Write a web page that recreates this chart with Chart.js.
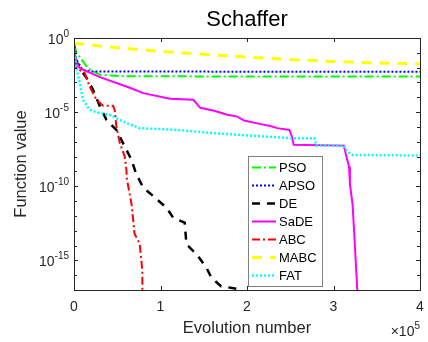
<!DOCTYPE html>
<html>
<head>
<meta charset="utf-8">
<script src="https://cdn.jsdelivr.net/npm/chart.js@4"></script>
<style>
  html, body { margin: 0; padding: 0; background: #fff; }
  canvas { display: block; }
</style>
</head>
<body>
<canvas id="chart" width="428" height="342"></canvas>
<script>
// series data, x = evolution number, y = function value
const seriesNames = ['PSO', 'APSO', 'DE', 'SaDE', 'ABC', 'MABC', 'FAT'];

const psoX = [0, 3000, 16000, 30000, 60000, 400000];
const psoY = [3.5e-1, 1e-1, 9.3e-3, 3.3e-3, 2.6e-3, 2.5e-3];

const apsoX = [0, 3000, 10000, 20000, 400000];
const apsoY = [3.5e-1, 3.2e-2, 7.1e-3, 5.5e-3, 5.2e-3];

const deX = [0, 3000, 6600, 16000, 22000, 30000, 37500, 49000, 58700, 66500, 72000, 80000,
    91500, 107000, 114600, 128000, 130000, 142000, 153000, 159000, 170000, 193000];
const deY = [3.5e-1, 2.5e-2, 9.3e-3, 1.5e-3, 3.2e-4, 2.4e-5, 3e-6, 6.3e-7, 4.8e-8, 6e-9, 6.5e-10, 8.1e-11,
    2.2e-11, 3.5e-12, 7.6e-13, 3.5e-13, 1.2e-14, 2.5e-15, 3.2e-16, 6.6e-17, 1.8e-17, 1.1e-17];

const sadeX = [0, 2000, 6600, 30000, 64500, 80000, 111000, 138000, 146000, 162000, 177000, 189000,
    196500, 216000, 227000, 235000, 249000, 252000, 254000, 312000, 314000, 318000, 319000, 322000,
    324000, 326000, 328000];
const sadeY = [3.5e-1, 2.5e-2, 9.3e-3, 2.3e-3, 4.4e-4, 1.9e-4, 7.9e-5, 6.8e-5, 1.95e-5, 1.23e-5, 6.6e-6, 5e-6,
    2.7e-6, 1.55e-6, 1.17e-6, 8.3e-7, 6.3e-7, 2.2e-7, 6.2e-8, 5.5e-8, 1.7e-8, 2.1e-9, 1.4e-10, 6.3e-12,
    6.3e-14, 4e-16, 3.2e-18];

const abcX = [0, 1000, 3000, 12400, 18000, 26000, 33600, 45000, 47000, 49000, 53000, 58700, 60700,
    60800, 66500, 70000, 76000, 79000, 79100];
const abcY = [3.5e-1, 2e-2, 9.3e-3, 4.4e-3, 5.4e-4, 6.8e-5, 2.7e-5, 2.7e-5, 1.45e-5, 1.07e-6, 8.1e-8, 1e-8, 1.1e-9,
    4e-10, 6.3e-12, 6.3e-14, 1.26e-14, 2e-16, 3.2e-18];

const mabcX = [0, 50000, 100000, 150000, 200000, 250000, 300000, 350000, 400000];
const mabcY = [4.4e-1, 2.2e-1, 1.26e-1, 7.9e-2, 5.2e-2, 3.5e-2, 2.6e-2, 2.1e-2, 1.8e-2];

const fatX = [0, 3000, 6600, 10400, 18000, 30000, 41000, 49000, 61000, 76000, 119000, 162000, 224000,
    251000, 278000, 280000, 312000, 316000, 322000, 400000];
const fatY = [3.5e-1, 9.3e-3, 9.1e-4, 6.8e-5, 1.45e-5, 8.5e-6, 6.6e-6, 3.9e-6, 1.8e-6, 8.3e-7, 6.3e-7, 3.8e-7, 2.2e-7,
    1.74e-7, 1.74e-7, 5.5e-8, 5.5e-8, 2.2e-8, 1.3e-8, 1.17e-8];

// axis ticks
const xTicks = [0, 100000, 200000, 300000, 400000];
const xTickLabels = ['0', '1', '2', '3', '4'];
const yTicks = [1, 1e-5, 1e-10, 1e-15];
const yTickExps = ['0', '-5', '-10', '-15'];

function pts(xs, ys) {
    return xs.map((x, i) => ({ x: x, y: ys[i] }));
}

const styles = [
    { color: '#00ff00', width: 2, dash: [9, 3, 2, 3] },
    { color: '#0000ff', width: 2, dash: [2, 2] },
    { color: '#000000', width: 2.5, dash: [8, 7] },
    { color: '#ff00ff', width: 2, dash: [] },
    { color: '#ff0000', width: 2, dash: [8, 3, 2, 3] },
    { color: '#ffff00', width: 3, dash: [10, 8] },
    { color: '#00ffff', width: 2.5, dash: [2, 2] }
];
const allData = [pts(psoX, psoY), pts(apsoX, apsoY), pts(deX, deY), pts(sadeX, sadeY),
    pts(abcX, abcY), pts(mabcX, mabcY), pts(fatX, fatY)];

const datasets = seriesNames.map((name, i) => ({
    label: name,
    data: allData[i],
    borderColor: styles[i].color,
    borderWidth: styles[i].width,
    borderDash: styles[i].dash,
    pointRadius: 0,
    fill: false,
    tension: 0,
    order: 6 - i
}));

const ink = '#262626';
const FONT = '"Liberation Sans", Arial, sans-serif';

const decor = {
    id: 'decor',
    afterDraw(chart) {
        const ctx = chart.ctx;
        const a = chart.chartArea;
        const xs = chart.scales.x, ys = chart.scales.y;
        ctx.save();
        // box
        ctx.strokeStyle = ink;
        ctx.lineWidth = 1;
        ctx.setLineDash([]);
        ctx.strokeRect(Math.round(a.left) + 0.5, Math.round(a.top) + 0.5,
            Math.round(a.right - a.left), Math.round(a.bottom - a.top));

        // x ticks
        ctx.beginPath();
        xTicks.forEach(v => {
            const px = Math.round(xs.getPixelForValue(v)) + 0.5;
            ctx.moveTo(px, a.bottom); ctx.lineTo(px, a.bottom - 4);
            ctx.moveTo(px, a.top); ctx.lineTo(px, a.top + 4);
        });
        // y ticks: every decade, longer at labelled ones
        for (let e = 0; e >= -17; e--) {
            const py = Math.round(ys.getPixelForValue(Math.pow(10, e))) + 0.5;
            const len = (e % 5 === 0) ? 4 : 3;
            ctx.moveTo(a.left, py); ctx.lineTo(a.left + len, py);
            ctx.moveTo(a.right, py); ctx.lineTo(a.right - len, py);
        }
        ctx.stroke();

        ctx.fillStyle = ink;
        // x tick labels
        ctx.font = '14px ' + FONT;
        ctx.textAlign = 'center';
        ctx.textBaseline = 'middle';
        xTicks.forEach((v, i) => {
            ctx.fillText(xTickLabels[i], xs.getPixelForValue(v), 307);
        });
        // y tick labels 10^e
        yTicks.forEach((v, i) => {
            const py = ys.getPixelForValue(v);
            ctx.font = '10px ' + FONT;
            const ew = ctx.measureText(yTickExps[i]).width;
            ctx.textAlign = 'right';
            ctx.fillText(yTickExps[i], 69, py - 4);
            ctx.font = '14px ' + FONT;
            ctx.fillText('10', 69 - ew, py + 2);
        });
        // x10^5 multiplier
        ctx.font = '10px ' + FONT;
        ctx.textAlign = 'right';
        ctx.fillText('5', 420, 326);
        const w5 = ctx.measureText('5').width;
        ctx.font = '14px ' + FONT;
        ctx.fillText('\u00d710', 420 - w5, 332);

        // title and axis titles
        ctx.textAlign = 'center';
        ctx.fillStyle = '#000';
        ctx.font = '22px ' + FONT;
        ctx.fillText('Schaffer', (a.left + a.right) / 2, 20);
        ctx.fillStyle = ink;
        ctx.font = '16.5px ' + FONT;
        ctx.fillText('Evolution number', (a.left + a.right) / 2, 328);
        ctx.save();
        ctx.translate(21, (a.top + a.bottom) / 2);
        ctx.rotate(-Math.PI / 2);
        ctx.fillText('Function value', 0, 0);
        ctx.restore();

        // legend
        const lx = 248.5, ly = 156.5, lw = 74, lh = 130;
        ctx.fillStyle = '#fff';
        ctx.fillRect(lx, ly, lw, lh);
        ctx.strokeStyle = '#808080';
        ctx.lineWidth = 1;
        ctx.strokeRect(lx, ly, lw, lh);
        ctx.font = '13px ' + FONT;
        ctx.textAlign = 'left';
        seriesNames.forEach((name, i) => {
            const y = 167.5 + i * 18;
            ctx.strokeStyle = styles[i].color;
            ctx.lineWidth = styles[i].width;
            ctx.setLineDash(styles[i].dash);
            ctx.beginPath();
            ctx.moveTo(252, y); ctx.lineTo(276, y);
            ctx.stroke();
            ctx.setLineDash([]);
            ctx.fillStyle = '#000';
            ctx.fillText(name, 279, y + 1);
        });
        ctx.restore();
    }
};

new Chart(document.getElementById('chart'), {
    type: 'line',
    data: { datasets: datasets },
    options: {
        responsive: false,
        animation: false,
        devicePixelRatio: 1,
        layout: { padding: { left: 74, top: 38, right: 8, bottom: 52 } },
        plugins: { legend: { display: false }, title: { display: false }, tooltip: { enabled: false } },
        scales: {
            x: { type: 'linear', min: 0, max: 400000, display: false },
            y: { type: 'logarithmic', min: 1e-17, max: 1, display: false }
        }
    },
    plugins: [decor]
});
</script>
</body>
</html>
